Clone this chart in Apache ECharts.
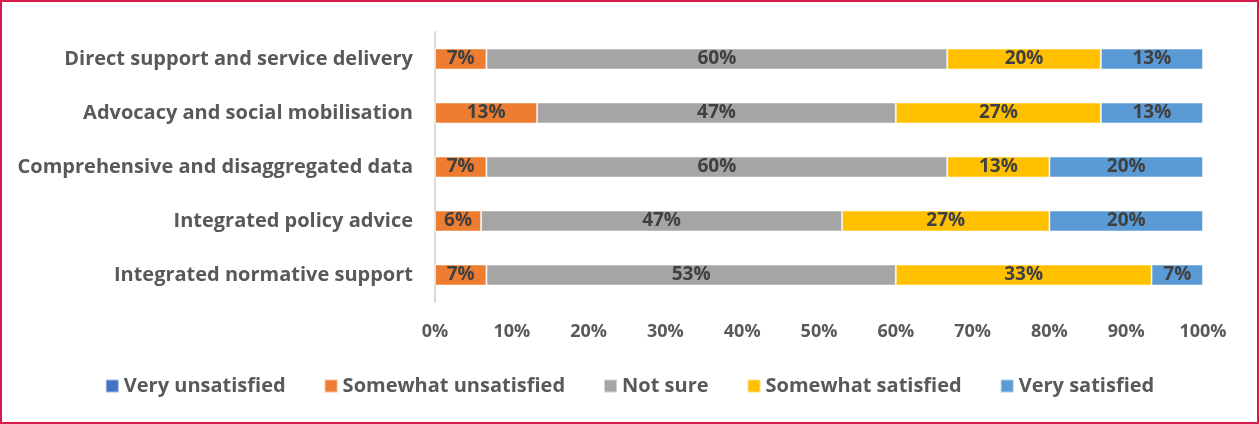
<!DOCTYPE html>
<html>
<head>
<meta charset="utf-8">
<script src="https://cdn.jsdelivr.net/npm/echarts@6/dist/echarts.min.js"></script>
<style>
  html, body { margin: 0; padding: 0; background: #fff; }
  #chart {
    width: 1259px;
    height: 424px;
    box-sizing: border-box;
    border: 2px solid #D7194B;
  }
</style>
</head>
<body>
<div id="chart"></div>
<script>
// categories, top to bottom as shown
var categories = [
  'Direct support and service delivery',
  'Advocacy and social mobilisation',
  'Comprehensive and disaggregated data',
  'Integrated policy advice',
  'Integrated normative support'
];
var seriesNames = ['Very unsatisfied', 'Somewhat unsatisfied', 'Not sure', 'Somewhat satisfied', 'Very satisfied'];
var veryUnsatisfied     = [0, 0, 0, 0, 0];
var somewhatUnsatisfied = [6.7, 13.3, 6.7, 6, 6.7];
var notSure             = [60, 46.7, 60, 47, 53.3];
var somewhatSatisfied   = [20, 26.7, 13.3, 27, 33.3];
var verySatisfied       = [13.3, 13.3, 20, 20, 6.7];
var xTicks = [0, 10, 20, 30, 40, 50, 60, 70, 80, 90, 100];

var colors = ['#4472C4', '#ED7D31', '#A5A5A5', '#FFC000', '#5B9BD5'];
var font = 'Open Sans';

var chart = echarts.init(document.getElementById('chart'));

function makeSeries(name, data) {
  return {
    name: name,
    type: 'bar',
    stack: 'total',
    barWidth: 21,
    data: data,
    itemStyle: { borderColor: 'rgba(255,255,255,0.5)', borderWidth: 1 },
    label: {
      show: true,
      position: 'inside',
      color: '#404040',
      fontFamily: font,
      fontWeight: 'bold',
      fontSize: 19,
      formatter: function (p) {
        return p.value > 0 ? Math.round(p.value) + '%' : '';
      }
    }
  };
}

chart.setOption({
  animation: false,
  color: colors,
  grid: { left: 433, right: 54, top: 30, bottom: 120, containLabel: false },
  legend: {
    bottom: 21,
    left: 'center',
    itemWidth: 13,
    itemHeight: 13,
    itemGap: 38,
    padding: [5, 5, 5, 15],
    icon: 'rect',
    textStyle: { color: '#595959', fontFamily: font, fontWeight: 'bold', fontSize: 20 },
    data: seriesNames
  },
  xAxis: {
    type: 'value',
    min: xTicks[0],
    max: xTicks[xTicks.length - 1],
    interval: 10,
    splitLine: { show: false },
    axisLine: { show: false },
    axisTick: { show: false },
    axisLabel: {
      margin: 21,
      color: '#595959',
      fontFamily: font,
      fontWeight: 'bold',
      fontSize: 18,
      formatter: '{value}%'
    }
  },
  yAxis: {
    type: 'category',
    inverse: true,
    data: categories,
    axisLine: { show: true, lineStyle: { color: '#D9D9D9', width: 2 } },
    axisTick: { show: false },
    axisLabel: {
      margin: 22,
      color: '#595959',
      fontFamily: font,
      fontWeight: 'bold',
      fontSize: 20
    }
  },
  series: [
    makeSeries(seriesNames[0], veryUnsatisfied),
    makeSeries(seriesNames[1], somewhatUnsatisfied),
    makeSeries(seriesNames[2], notSure),
    makeSeries(seriesNames[3], somewhatSatisfied),
    makeSeries(seriesNames[4], verySatisfied)
  ]
});
</script>
</body>
</html>
